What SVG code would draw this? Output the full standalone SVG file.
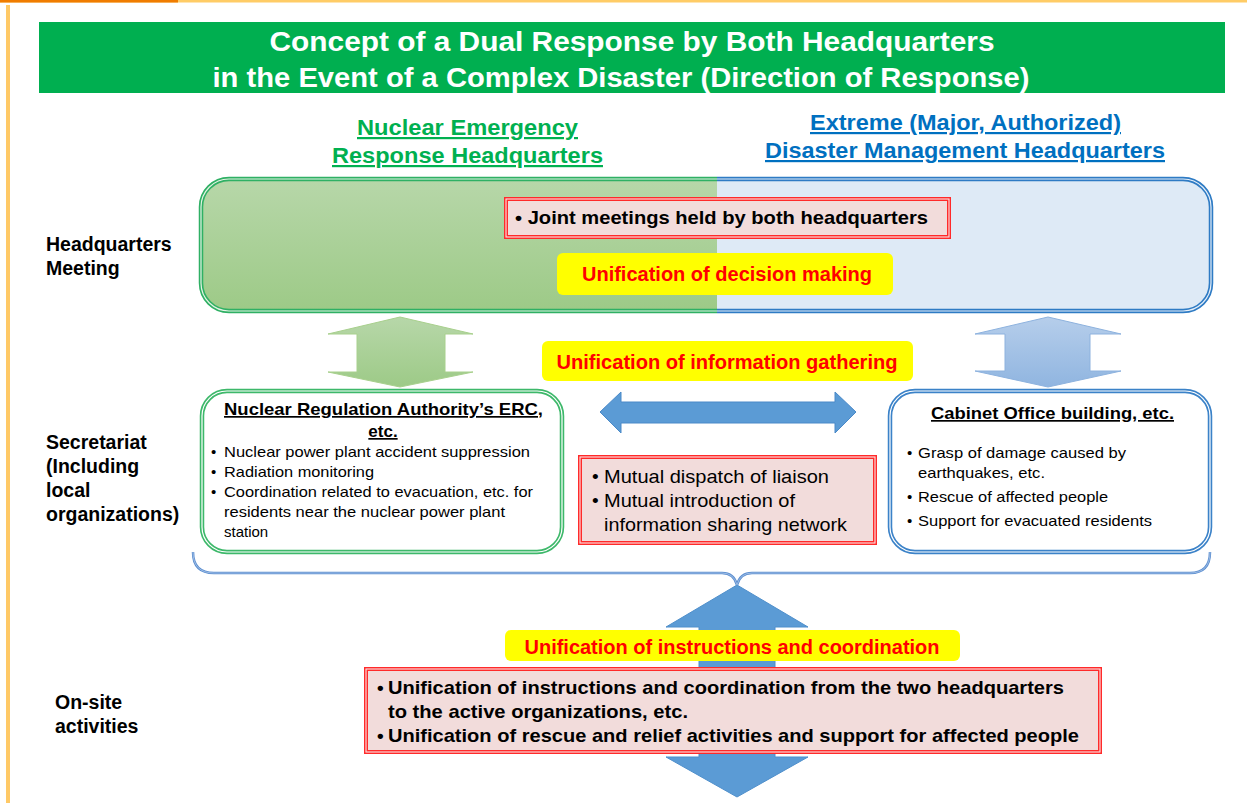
<svg xmlns="http://www.w3.org/2000/svg" width="1247" height="803" viewBox="0 0 1247 803">
<style>
text{font-family:"Liberation Sans",Arial,sans-serif;}
.b{font-weight:bold;}
.lbl{font-size:19.5px;font-weight:bold;fill:#000;}
.ttl{font-size:28.5px;font-weight:bold;fill:#fff;}
.hg{font-size:22px;font-weight:bold;fill:#00B050;text-decoration:underline;}
.hb{font-size:22px;font-weight:bold;fill:#0070C0;text-decoration:underline;}
.red{font-size:20px;font-weight:bold;fill:#FF0000;}
.yel{fill:#FFFF00;}
.rbox{fill:#F2DCDB;stroke:#FF2A2A;stroke-width:4;}
.rin{fill:none;stroke:#FBE4E4;stroke-width:1.1;}
.sm{font-size:15px;fill:#000;}
.st{font-size:17px;font-weight:bold;fill:#000;text-decoration:underline;}
.mid{font-size:19px;fill:#000;}
.bb{font-size:19px;font-weight:bold;fill:#000;}
</style>
<defs>
<linearGradient id="gg" x1="0" y1="0" x2="0" y2="1"><stop offset="0" stop-color="#B7D7A9"/><stop offset="1" stop-color="#9DCA87"/></linearGradient>
<linearGradient id="gb" x1="0" y1="0" x2="0" y2="1"><stop offset="0" stop-color="#B6CEEB"/><stop offset="1" stop-color="#90B5E0"/></linearGradient>
<clipPath id="cl"><rect x="0" y="0" width="717" height="400"/></clipPath>
<clipPath id="cr"><rect x="717" y="0" width="600" height="400"/></clipPath>
</defs>

<g id="frame">
<rect x="0" y="0" width="1247" height="2.5" fill="#FFCC66"/>
<rect x="0" y="0" width="178" height="2.5" fill="#F07C00"/>
<rect x="6" y="5" width="4" height="798" fill="#FFC966"/>
</g>

<g id="title">
<rect x="39" y="22" width="1186" height="71" fill="#00AF50"/>
<text class="ttl" x="632" y="51" text-anchor="middle" textLength="725" lengthAdjust="spacingAndGlyphs">Concept of a Dual Response by Both Headquarters</text>
<text class="ttl" x="621" y="87" text-anchor="middle" textLength="817" lengthAdjust="spacingAndGlyphs">in the Event of a Complex Disaster (Direction of Response)</text>
</g>

<g id="header-nuclear">
<text class="hg" x="357" y="135" textLength="221" lengthAdjust="spacingAndGlyphs">Nuclear Emergency</text>
<text class="hg" x="332" y="163" textLength="271" lengthAdjust="spacingAndGlyphs">Response Headquarters</text>
</g>
<g id="header-disaster">
<text class="hb" x="810" y="130" textLength="311" lengthAdjust="spacingAndGlyphs">Extreme (Major, Authorized)</text>
<text class="hb" x="765" y="158" textLength="400" lengthAdjust="spacingAndGlyphs">Disaster Management Headquarters</text>
</g>

<g id="row-labels">
<text class="lbl" x="46" y="251">Headquarters</text>
<text class="lbl" x="46" y="275">Meeting</text>
<text class="lbl" x="46" y="449">Secretariat</text>
<text class="lbl" x="46" y="473">(Including</text>
<text class="lbl" x="46" y="497">local</text>
<text class="lbl" x="46" y="521">organizations)</text>
<text class="lbl" x="55" y="709">On-site</text>
<text class="lbl" x="55" y="733">activities</text>
</g>

<g id="connectors">
<polygon points="400,317 473,334 445,334 445,372 473,372 400,387 328,372 357,372 357,334 328,334" fill="url(#gg)" stroke="#A8D08D" stroke-width="1"/>
<polygon points="1048,317 1121,334 1090,334 1090,371 1121,371 1048,387 975,371 1005,371 1005,334 975,334" fill="url(#gb)" stroke="#8DB2DE" stroke-width="1"/>
<polygon points="600,412 621,392 621,402 835,402 835,392 856,412 835,433 835,423 621,423 621,433" fill="#5B9BD5" stroke="#4A89C8" stroke-width="1"/>
<path d="M193,552 Q193,573 214,573 L722,573 Q734,573 737,585 Q740,573 752,573 L1190,573 Q1210,573 1210,552" fill="none" stroke="#5B8ED0" stroke-width="2.5"/>
<path d="M193,552 Q193,573 214,573 L722,573 Q734,573 737,585 Q740,573 752,573 L1190,573 Q1210,573 1210,552" fill="none" stroke="#C9DAF0" stroke-width="0.6"/>
<polygon points="737,585 808,627 775,627 775,757 808,757 737,797 666,757 699,757 699,627 666,627" fill="#5B9BD5" stroke="#4F8FCB" stroke-width="1"/>
</g>

<g id="hq-meeting">
<g clip-path="url(#cl)">
<rect x="201" y="179" width="1010" height="132" rx="28" fill="url(#gg)" stroke="#2FB064" stroke-width="4.5"/>
<rect x="201" y="179" width="1010" height="132" rx="28" fill="none" stroke="#E4F3E4" stroke-width="1.2"/>
</g>
<g clip-path="url(#cr)">
<rect x="201" y="179" width="1010" height="132" rx="28" fill="#DEEAF6" stroke="#2E7BC4" stroke-width="4.5"/>
<rect x="201" y="179" width="1010" height="132" rx="28" fill="none" stroke="#E6EFF9" stroke-width="1.2"/>
</g>
</g>

<g id="joint-meetings">
<rect class="rbox" x="506" y="199" width="443" height="38"/>
<rect class="rin" x="506" y="199" width="443" height="38"/>
<text class="b" x="515" y="224" font-size="18.5" textLength="413" lengthAdjust="spacingAndGlyphs">• Joint meetings held by both headquarters</text>
</g>

<g id="unify-decision">
<rect class="yel" x="557" y="253" width="336" height="42" rx="6"/>
<text class="red" x="727" y="281" text-anchor="middle" textLength="290" lengthAdjust="spacingAndGlyphs">Unification of decision making</text>
</g>

<g id="unify-info">
<rect class="yel" x="542" y="341" width="371" height="40" rx="6"/>
<text class="red" x="727" y="369" text-anchor="middle" textLength="341" lengthAdjust="spacingAndGlyphs">Unification of information gathering</text>
</g>

<g id="nra-erc">
<rect x="202" y="391" width="360" height="161" rx="25" fill="#fff" stroke="#3DB86A" stroke-width="4.5"/>
<rect x="202" y="391" width="360" height="161" rx="25" fill="none" stroke="#fff" stroke-width="1.2"/>
<text class="st" x="224" y="415" textLength="319" lengthAdjust="spacingAndGlyphs">Nuclear Regulation Authority’s ERC,</text>
<text class="st" x="383" y="437" text-anchor="middle">etc.</text>
<text class="sm" x="211" y="457">•</text>
<text class="sm" x="224" y="457" textLength="306" lengthAdjust="spacingAndGlyphs">Nuclear power plant accident suppression</text>
<text class="sm" x="211" y="477">•</text>
<text class="sm" x="224" y="477" textLength="150" lengthAdjust="spacingAndGlyphs">Radiation monitoring</text>
<text class="sm" x="211" y="497">•</text>
<text class="sm" x="224" y="497" textLength="309" lengthAdjust="spacingAndGlyphs">Coordination related to evacuation, etc. for</text>
<text class="sm" x="224" y="517" textLength="281" lengthAdjust="spacingAndGlyphs">residents near the nuclear power plant</text>
<text class="sm" x="224" y="537">station</text>
</g>

<g id="mutual">
<rect class="rbox" x="580" y="457" width="295" height="86"/>
<rect class="rin" x="580" y="457" width="295" height="86"/>
<text class="mid" x="592" y="483">•</text>
<text class="mid" x="604" y="483" textLength="225" lengthAdjust="spacingAndGlyphs">Mutual dispatch of liaison</text>
<text class="mid" x="592" y="507">•</text>
<text class="mid" x="604" y="507" textLength="191" lengthAdjust="spacingAndGlyphs">Mutual introduction of</text>
<text class="mid" x="604" y="531" textLength="243" lengthAdjust="spacingAndGlyphs">information sharing network</text>
</g>

<g id="cabinet-office">
<rect x="890" y="391" width="320" height="161" rx="25" fill="#fff" stroke="#3B82C8" stroke-width="4.5"/>
<rect x="890" y="391" width="320" height="161" rx="25" fill="none" stroke="#fff" stroke-width="1.2"/>
<text class="st" x="931" y="419" textLength="243" lengthAdjust="spacingAndGlyphs">Cabinet Office building, etc.</text>
<text class="sm" x="907" y="458">•</text>
<text class="sm" x="918" y="458" textLength="208" lengthAdjust="spacingAndGlyphs">Grasp of damage caused by</text>
<text class="sm" x="918" y="478" textLength="127" lengthAdjust="spacingAndGlyphs">earthquakes, etc.</text>
<text class="sm" x="907" y="502">•</text>
<text class="sm" x="918" y="502" textLength="190" lengthAdjust="spacingAndGlyphs">Rescue of affected people</text>
<text class="sm" x="907" y="526">•</text>
<text class="sm" x="918" y="526" textLength="234" lengthAdjust="spacingAndGlyphs">Support for evacuated residents</text>
</g>

<g id="unify-instructions">
<rect class="yel" x="505" y="630" width="455" height="31" rx="6"/>
<text class="red" x="732" y="654" text-anchor="middle" textLength="415" lengthAdjust="spacingAndGlyphs">Unification of instructions and coordination</text>
</g>

<g id="onsite">
<rect class="rbox" x="366" y="669" width="734" height="83"/>
<rect class="rin" x="366" y="669" width="734" height="83"/>
<text class="bb" x="377" y="694">•</text>
<text class="bb" x="388" y="694" textLength="676" lengthAdjust="spacingAndGlyphs">Unification of instructions and coordination from the two headquarters</text>
<text class="bb" x="388" y="718" textLength="300" lengthAdjust="spacingAndGlyphs">to the active organizations, etc.</text>
<text class="bb" x="377" y="742">•</text>
<text class="bb" x="388" y="742" textLength="691" lengthAdjust="spacingAndGlyphs">Unification of rescue and relief activities and support for affected people</text>
</g>
</svg>
